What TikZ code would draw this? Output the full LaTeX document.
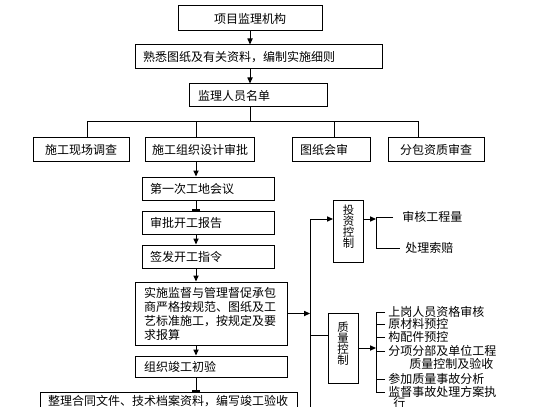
\documentclass[tikz,border=0pt]{standalone}
\usepackage{fontspec}
\newfontfamily\cjk{Noto Sans CJK SC}
\usetikzlibrary{arrows.meta}

\tikzset{
  box/.style={draw, line width=0.5pt, inner ysep=0pt, minimum height=11.5pt,
    font=\cjk\fontsize{6}{7}\selectfont},
  lbox/.style={box, align=left, inner xsep=4pt, text width=#1},
  vbox/.style={draw, line width=0.5pt, inner sep=0pt, minimum width=15pt,
    align=center, font=\cjk\fontsize{5.7}{5.6}\selectfont},
  item/.style={anchor=west, inner xsep=1.5pt, inner ysep=0pt,
    font=\cjk\fontsize{6}{7}\selectfont},
  arr/.style={line width=0.5pt, -{Triangle[length=3pt,width=2.6pt]}},
  tick/.style={line width=0.5pt, -{Bar[width=4pt,line width=1pt]}},
  wire/.style={line width=0.5pt}
}

\begin{document}
\begin{tikzpicture}[x=0.5pt,y=-0.5pt]
\useasboundingbox (0,0) rectangle (560,406);
\clip (0,0) rectangle (560,406);
% top column
\node[box, minimum width=72pt, minimum height=12.5pt] (head) at (250,18.5) {项目监理机构};
\node[lbox=115.5pt, minimum height=12pt] (fam) at (258.5,57) {熟悉图纸及有关资料，编制实施细则};
\node[lbox=60pt, inner xsep=4.5pt] (staff) at (258,95.5) {监理人员名单};
\coordinate (bus) at (250,122);
% second row
\node[box, minimum width=48pt] (survey) at (81,149.5) {施工现场调查};
\node[box, minimum width=52pt] (design) at (200,149.5) {施工组织设计审批};
\node[lbox=31pt] (drawings) at (331,149.5) {图纸会审};
\node[box, minimum width=48pt] (sub) at (436,149.5) {分包资质审查};
% main flow
\coordinate (col) at (196,170);
\node[lbox=58pt] (meeting) at (208,188.5) {第一次工地会议};
\node[lbox=58pt] (report) at (208,222.5) {审批开工报告};
\node[lbox=58pt] (order) at (208,256.5) {签发开工指令};
\node[lbox=67pt, inner xsep=4.5pt, minimum height=31.5pt] (supervise) at (211,313.5)
  {实施监督与管理督促承包\\商严格按规范、图纸及工\\艺标准施工，按规定及要\\求报算};
\node[lbox=67pt, inner xsep=4.5pt, minimum height=10.5pt] (accept) at (211,366.5) {组织竣工初验};
\node[lbox=120.5pt, anchor=north, inner ysep=1.5pt] (archive) at (168.5,392)
  {整理合同文件、技术档案资料，编写竣工验收\\\phantom{整}};
% right side
\coordinate (trunk) at (310,313);
\coordinate (trunkend) at (310,420);
\node[vbox, minimum height=31pt] (invest) at (348.5,231) {投\\资\\控\\制\\[-1pt]\mbox{}};
\node[vbox, minimum height=35pt] (quality) at (343,348) {质\\量\\控\\制\\[-1pt]\mbox{}};
\coordinate (ibar) at (376,219);
\node[item, inner xsep=0pt] (i1) at (402,217) {审核工程量};
\node[item, inner xsep=0pt] (i2) at (405,248) {处理索赔};
\coordinate (qbar) at (376,347);
\node[item] (q1) at (385,312) {上岗人员资格审核};
\node[item] (q2) at (385,324) {原材料预控};
\node[item] (q3) at (385,337) {构配件预控};
\node[item] (q4) at (385,351) {分项分部及单位工程};
\node[item] (q4b) at (406,364) {质量控制及验收};
\node[item] (q5) at (385,379) {参加质量事故分析};
\node[item] (q6) at (385,392) {监督事故处理方案执};
\node[item] (q6b) at (390,403) {行};

% connectors
\draw[arr] (head.south) -- (head.south |- fam.north);
\draw[arr] (fam.south -| head.south) -- (head.south |- staff.north);
\draw[wire] (staff.south -| bus) -- (bus);
\draw[wire] ([xshift=3pt]survey.north) -- ([xshift=3pt]survey.north |- bus)
  -- ([xshift=-9pt]sub.north |- bus) -- ([xshift=-9pt]sub.north);
\draw[wire] ([xshift=-2pt]design.north) -- ([xshift=-2pt]design.north |- bus);
\draw[wire] ([xshift=1.5pt]drawings.north) -- ([xshift=1.5pt]drawings.north |- bus);
\draw[arr] (design.south -| col) -- (meeting.north -| col);
\draw[tick] (meeting.south -| col) -- (report.north -| col);
\draw[arr] (report.south -| col) -- (order.north -| col);
\draw[arr] (order.south -| col) -- (supervise.north -| col);
\draw[arr] (supervise.south -| col) -- (accept.north -| col);
\draw[tick] (accept.south -| col) -- (archive.north -| col);
\draw[arr] (supervise.east) -- (supervise.east -| trunk);
\draw[wire] (trunkend) -- ([yshift=6pt]invest.west -| trunk);
\draw[arr] ([yshift=6pt]invest.west -| trunk) -- ([yshift=6pt]invest.west);
\draw[wire] ([yshift=6.5pt]quality.west -| trunk) -- ([yshift=6.5pt]quality.west);
\draw[arr] ([yshift=6pt]invest.east) -- (ibar);
\draw[wire] ([xshift=-4.5pt]i1.west) -| (ibar) |- ([xshift=-2.5pt]i2.west);
\draw[arr] (quality.east) -- (quality.east -| qbar);
\draw[wire] (q1.west) -| (qbar) |- (q6.west);
\foreach \n in {q2,q3,q4,q5}
  \draw[wire] (\n.west) -- (\n.west -| qbar);
\end{tikzpicture}
\end{document}
